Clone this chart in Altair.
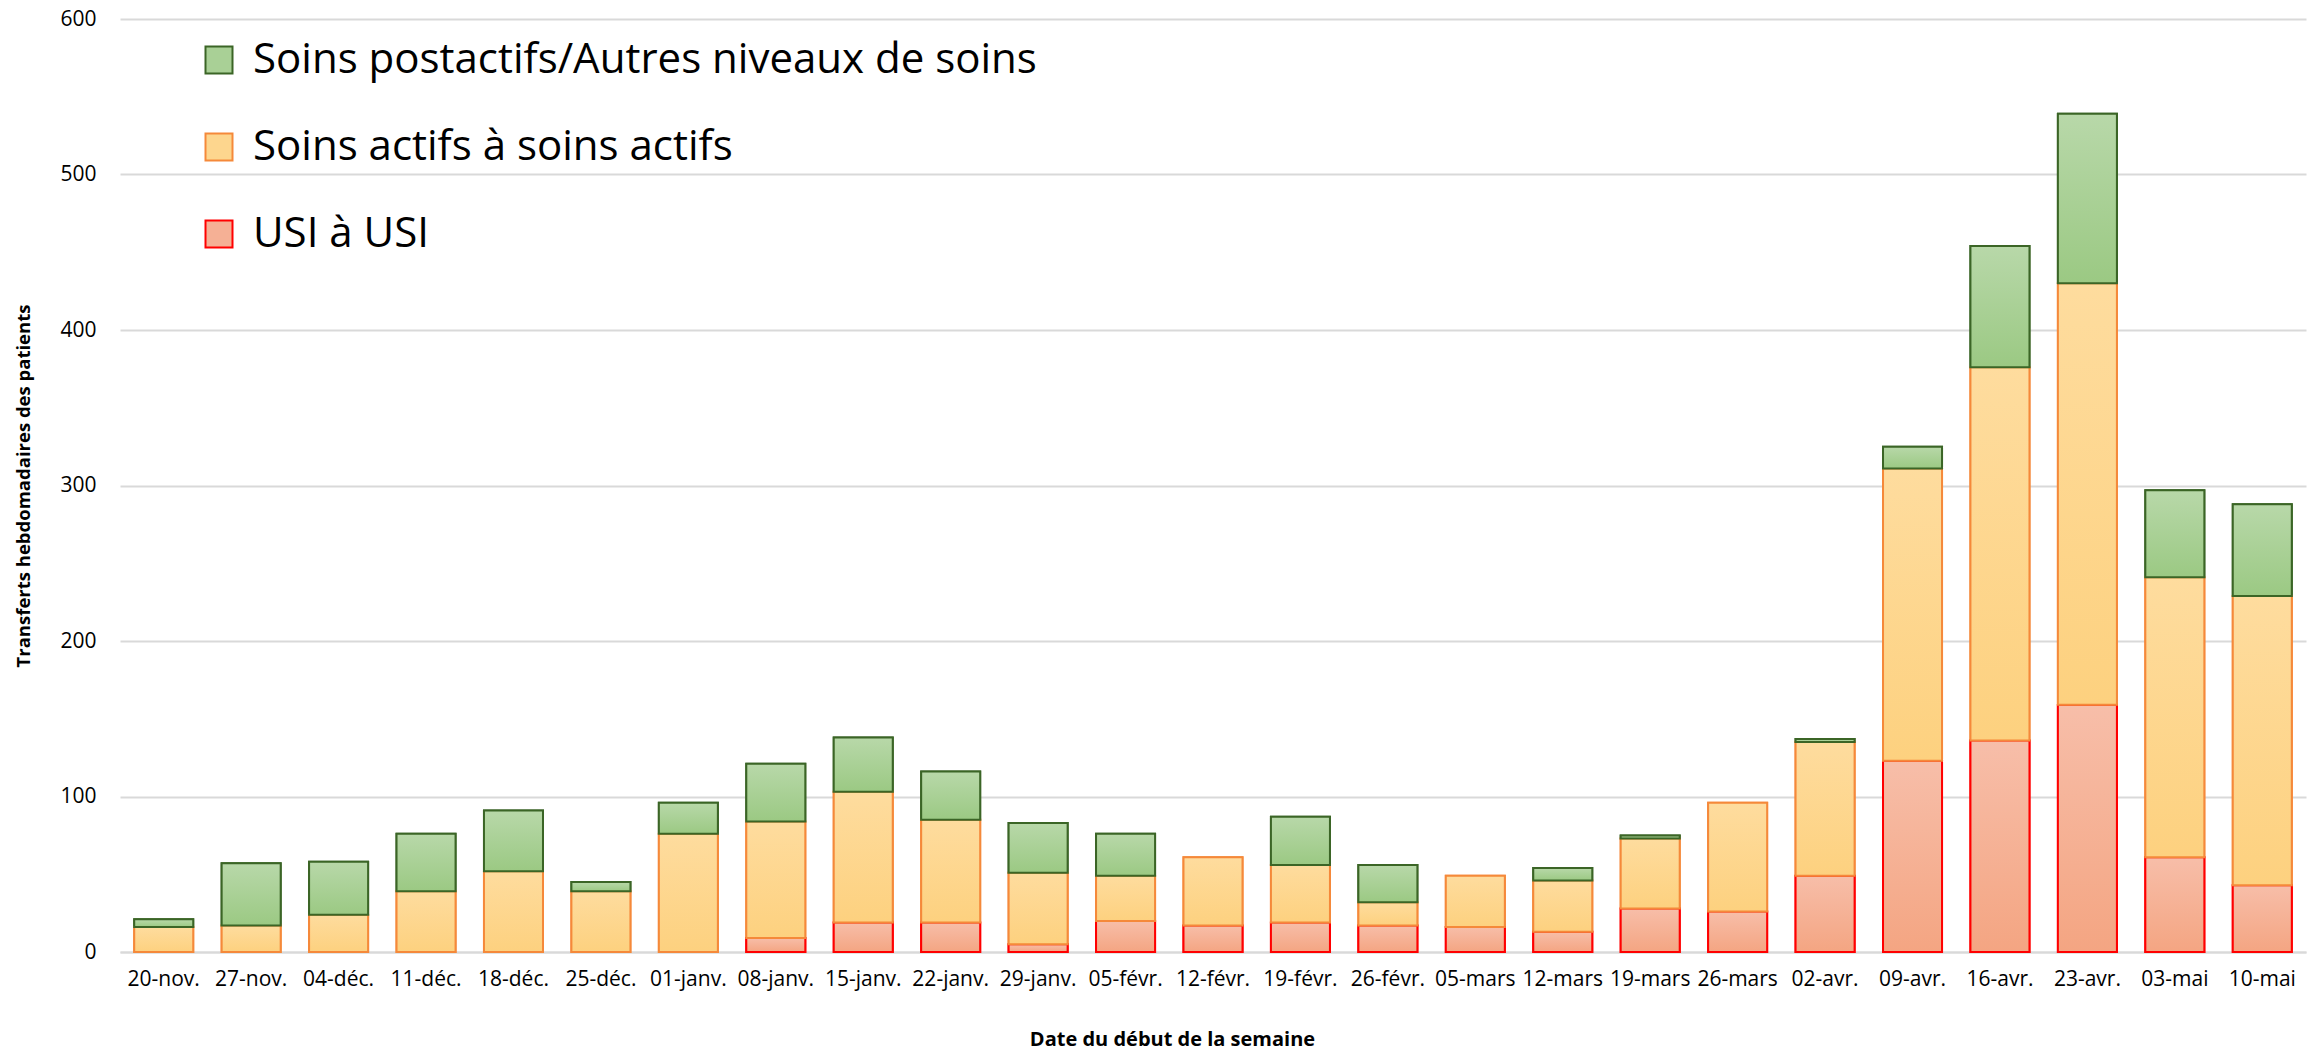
import altair as alt
import pandas as pd

weeks = ["20-nov.", "27-nov.", "04-déc.", "11-déc.", "18-déc.", "25-déc.", "01-janv.",
         "08-janv.", "15-janv.", "22-janv.", "29-janv.", "05-févr.", "12-févr.", "19-févr.",
         "26-févr.", "05-mars", "12-mars", "19-mars", "26-mars", "02-avr.", "09-avr.",
         "16-avr.", "23-avr.", "03-mai", "10-mai"]

usi = [0, 0, 0, 0, 0, 0, 0, 9, 19, 19, 5, 20, 17, 19, 17, 16, 13, 28, 26, 49, 123, 136, 159, 61, 43]
actifs = [16, 17, 24, 39, 52, 39, 76, 75, 84, 66, 46, 29, 44, 37, 15, 33, 33, 45, 70, 86, 188, 240, 271, 180, 186]
postactifs = [5, 40, 34, 37, 39, 6, 20, 37, 35, 31, 32, 27, 0, 31, 24, 0, 8, 2, 0, 2, 14, 78, 109, 56, 59]

s_post = "Soins postactifs/Autres niveaux de soins"
s_act = "Soins actifs à soins actifs"
s_usi = "\u00a0USI à USI"
series_names = [s_post, s_act, s_usi]

rows = []
for i, w in enumerate(weeks):
    rows.append({"week": w, "series": s_usi, "order": 0, "value": usi[i]})
    rows.append({"week": w, "series": s_act, "order": 1, "value": actifs[i]})
    rows.append({"week": w, "series": s_post, "order": 2, "value": postactifs[i]})
df = pd.DataFrame(rows)

FONT = "Open Sans"

def grad(top, bottom):
    return alt.Gradient(
        gradient="linear",
        stops=[alt.GradientStop(color=top, offset=0), alt.GradientStop(color=bottom, offset=1)],
        x1=0, x2=0, y1=0, y2=1,
    )

styles = {
    s_usi: (grad("#f7bea9", "#f4a582"), "#ff0000"),
    s_act: (grad("#fedc9e", "#fdd17f"), "#f5893a"),
    s_post: (grad("#b8d8a9", "#9bc983"), "#3b6526"),
}

x_enc = alt.X("week:N", sort=weeks,
              scale=alt.Scale(paddingInner=0.325, paddingOuter=0.1625),
              axis=alt.Axis(title="Date du début de la semaine", labelAngle=0, ticks=False,
                            domain=True, domainColor="#d9d9d9", domainWidth=2,
                            labelFont=FONT, labelFontSize=21, labelColor="#000000",
                            labelPadding=16, titleFont=FONT, titleFontSize=20,
                            titleFontWeight="bold", titleColor="#000000",
                            titleX=1052, titleY=87, titleAlign="center", titleBaseline="middle"))
y_enc = alt.Y("y0:Q", scale=alt.Scale(domain=[0, 600], nice=False),
              axis=alt.Axis(title="Transferts hebdomadaires des patients", values=[0, 100, 200, 300, 400, 500, 600],
                            ticks=False, domain=False, grid=True, gridColor="#d9d9d9", gridWidth=2,
                            labelFont=FONT, labelFontSize=21, labelColor="#000000", labelPadding=24,
                            titleFont=FONT, titleFontSize=18.5, titleFontWeight="bold",
                            titleColor="#000000", titlePadding=26))

base = alt.Chart(df).transform_filter("datum.value > 0").transform_stack(
    stack="value", as_=["y0", "y1"], groupby=["week"], sort=[alt.SortField("order", "ascending")]
)

legend_layer = base.mark_bar(strokeWidth=2).encode(
    x=x_enc,
    y=y_enc,
    y2="y1:Q",
    fill=alt.Fill("series:N", scale=alt.Scale(domain=series_names, range=["#a9d096", "#fdd68e", "#f5b095"]),
                  legend=alt.Legend(title=None)),
    stroke=alt.Stroke("series:N", scale=alt.Scale(domain=series_names, range=["#3b6526", "#f5893a", "#ff0000"]),
                      legend=alt.Legend(title=None)),
)

layers = [legend_layer]
for s in [s_usi, s_act, s_post]:
    fill, stroke = styles[s]
    layers.append(
        base.transform_filter(alt.datum.series == s).mark_bar(fill=fill, stroke=stroke, strokeWidth=2).encode(
            x=alt.X("week:N", sort=weeks), y=alt.Y("y0:Q"), y2="y1:Q"
        )
    )

chart = alt.layer(*layers).properties(
    width=2186, height=933,
    autosize=alt.AutoSizeParams(type="none"),
    padding={"left": 120, "top": 19, "right": 12, "bottom": 106},
).configure_view(stroke=None).configure_legend(
    orient="none", legendX=78, legendY=20, labelFont=FONT, labelFontSize=42, labelColor="#000000",
    symbolType="square", symbolSize=729, symbolStrokeWidth=2, rowPadding=45, labelOffset=13,
    padding=0, labelLimit=1500,
)

chart.save("out.html", embed_options={"renderer": "svg", "actions": False})
